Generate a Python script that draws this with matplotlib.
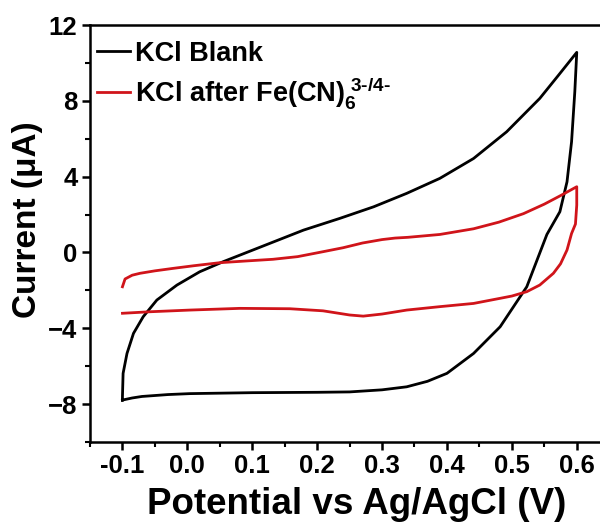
import numpy as np
import matplotlib
matplotlib.use('Agg')
import matplotlib.pyplot as plt

plt.rcParams['font.family'] = ['Liberation Sans', 'DejaVu Sans']
plt.rcParams['font.weight'] = 'bold'
plt.rcParams['mathtext.fontset'] = 'custom'
plt.rcParams['mathtext.rm'] = 'Liberation Sans:bold'
plt.rcParams['mathtext.bf'] = 'Liberation Sans:bold'
plt.rcParams['mathtext.it'] = 'Liberation Sans:bold'

# KCl blank: forward scan, then reverse scan back to start
blank_x = [-0.100, -0.085, -0.070, -0.030, 0.004, 0.100, 0.200, 0.250, 0.300, 0.338,
           0.370, 0.400, 0.441, 0.482, 0.523, 0.554, 0.574, 0.585, 0.592, 0.597, 0.600,
           0.572, 0.543, 0.492, 0.441, 0.389, 0.338, 0.287, 0.235, 0.179, 0.107,
           0.055, 0.019, -0.016, -0.047, -0.068, -0.083, -0.093, -0.099, -0.100, -0.100]
blank_y = [-7.79, -7.68, -7.60, -7.50, -7.45, -7.40, -7.38, -7.36, -7.25, -7.09,
           -6.80, -6.38, -5.33, -3.92, -1.81, 0.95, 2.15, 3.73, 5.84, 8.48, 10.56,
           9.36, 8.13, 6.37, 4.96, 3.91, 3.12, 2.41, 1.80, 1.18, 0.21,
           -0.49, -1.02, -1.72, -2.51, -3.39, -4.27, -5.33, -6.38, -7.61, -7.79]

# KCl after Fe(CN)6 3-/4-
fecn_x = [-0.100, -0.096, -0.085, -0.073, -0.050, -0.022, 0.010, 0.050, 0.090, 0.132,
          0.170, 0.209, 0.240, 0.270, 0.300, 0.320, 0.340, 0.389, 0.441, 0.480,
          0.518, 0.550, 0.575, 0.600,
          0.600, 0.598, 0.592, 0.585, 0.575, 0.564, 0.543, 0.523, 0.500, 0.482,
          0.441, 0.389, 0.338, 0.300, 0.271, 0.250, 0.209, 0.158, 0.081, 0.004,
          -0.058, -0.100]
fecn_y = [-1.81, -1.40, -1.20, -1.10, -0.97, -0.84, -0.70, -0.54, -0.45, -0.36,
          -0.22, 0.04, 0.25, 0.50, 0.68, 0.76, 0.80, 0.95, 1.25, 1.60,
          2.05, 2.55, 3.00, 3.47,
          2.50, 1.50, 1.00, 0.13, -0.60, -1.10, -1.72, -2.07, -2.30, -2.42,
          -2.69, -2.86, -3.04, -3.25, -3.36, -3.30, -3.08, -2.97, -2.95, -3.04,
          -3.13, -3.21]

xticks = [-0.1, 0.0, 0.1, 0.2, 0.3, 0.4, 0.5, 0.6]
yticks = [-8, -4, 0, 4, 8, 12]

fig = plt.figure(figsize=(6, 5.23), dpi=100)
# right part of the frame runs past the edge, as in the source image
ax = fig.add_axes([0.15, 0.155, 0.9735, 0.797])

ax.plot(blank_x, blank_y, color='black', lw=2.0, label='KCl Blank')
ax.plot(fecn_x, fecn_y, color='#d0141a', lw=2.0,
        label=r'KCl after Fe(CN)$_{6}^{\ 3\text{-}/4\text{-}}$')

ax.set_xlim(-0.15, 0.75)
ax.set_ylim(-10, 12)
ax.set_xticks(xticks)
ax.set_xticklabels([f'{v:.1f}' for v in xticks])
ax.set_yticks(yticks)
ax.set_xticks(np.arange(-0.15, 0.66, 0.05), minor=True)
ax.set_yticks(np.arange(-10, 12.1, 2), minor=True)

for s in ax.spines.values():
    s.set_linewidth(1.8)
ax.tick_params(which='major', direction='out', length=6, width=1.8, labelsize=18.5, pad=3)
ax.tick_params(which='minor', direction='out', length=3.5, width=1.5)
ax.tick_params(top=False, right=False)

ax.set_xlabel('Potential vs Ag/AgCl (V)', fontsize=26.5, fontweight='bold', va='top')
ax.xaxis.set_label_coords(0.457, -0.108)
ax.set_ylabel('Current (\u03bcA)', fontsize=24, fontweight='bold')
ax.yaxis.set_label_coords(-0.08, 0.532)

ax.legend(loc='upper left', bbox_to_anchor=(0.012, 0.962), frameon=False,
          fontsize=19.5, handlelength=1.2, handletextpad=0.2, borderaxespad=0,
          borderpad=0, labelspacing=0.3)

fig.savefig('out.png', dpi=100)
